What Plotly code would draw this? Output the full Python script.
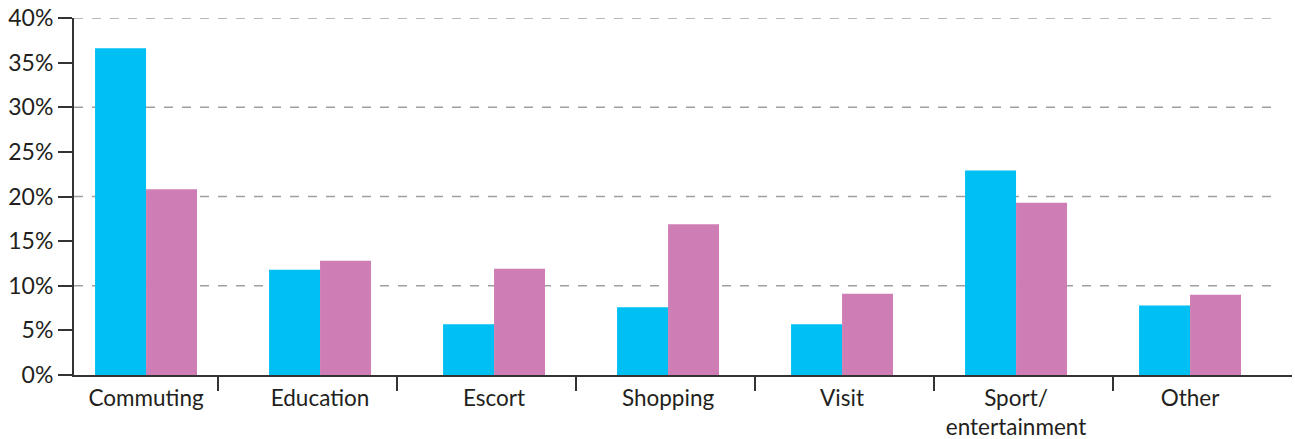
import plotly.graph_objects as go

categories = ["Commuting", "Education", "Escort", "Shopping", "Visit", "Sport/<br>entertainment", "Other"]
series_a = [36.6, 11.8, 5.7, 7.6, 5.7, 22.9, 7.8]
series_b = [20.8, 12.8, 11.9, 16.9, 9.1, 19.3, 9.0]
y_ticks = [0, 5, 10, 15, 20, 25, 30, 35, 40]
y_labels = [f"{v}%" for v in y_ticks]
grid_vals = [10, 20, 30, 40]

xpos = list(range(len(categories)))
sep_pos = [0.414 + 1.029 * k for k in range(7)]
x_lo, x_hi, grid_hi = -0.414, 6.586, 6.47

font = dict(family="Lato, 'Open Sans', sans-serif", size=23, color="#231f20")
xfont = dict(family="Lato, 'Open Sans', sans-serif", size=22.5, color="#231f20")

fig = go.Figure()
fig.add_trace(go.Bar(x=xpos, y=series_a, marker=dict(color="#00bff3", line_width=0), name="A"))
fig.add_trace(go.Bar(x=xpos, y=series_b, marker=dict(color="#cf7eb5", line_width=0), name="B"))
fig.add_trace(go.Scatter(x=[x_lo, x_hi], y=[0, 0], xaxis="x2", mode="lines",
                         line=dict(width=0), hoverinfo="skip", showlegend=False))

for g in grid_vals:
    fig.add_shape(type="line", xref="x", yref="y", x0=x_lo, x1=grid_hi, y0=g, y1=g,
                  line=dict(color="#a0a0a0", width=1.5, dash="dash"), layer="below")

fig.update_layout(
    width=1295, height=439,
    margin=dict(l=74, r=3, t=18, b=64, autoexpand=False),
    paper_bgcolor="white", plot_bgcolor="white",
    barmode="group", bargap=0.414, bargroupgap=0,
    showlegend=False,
    font=font,
    xaxis=dict(range=[x_lo, x_hi], tickvals=xpos, ticktext=categories,
               ticks="", showgrid=False, zeroline=False, automargin=False,
               showline=True, linecolor="#333333", linewidth=2,
               tickfont=xfont, ticklabelstandoff=2, ticklabeloverflow="allow"),
    xaxis2=dict(range=[x_lo, x_hi], overlaying="x", anchor="y", side="bottom",
                tickvals=sep_pos, ticks="outside", ticklen=15, tickwidth=1.5,
                tickcolor="#333333", showticklabels=False, showgrid=False,
                zeroline=False, showline=False, automargin=False),
    yaxis=dict(range=[0, 40], tickvals=y_ticks, ticktext=y_labels,
               ticks="outside", ticklen=14, tickwidth=2, tickcolor="#333333",
               showgrid=False, zeroline=False, automargin=False,
               showline=True, linecolor="#333333", linewidth=2,
               tickfont=font, ticklabeloverflow="allow"),
)

fig.write_html("out.html", config={"displayModeBar": False},
               post_script="document.body.style.margin='0px';document.body.style.overflow='hidden';")
